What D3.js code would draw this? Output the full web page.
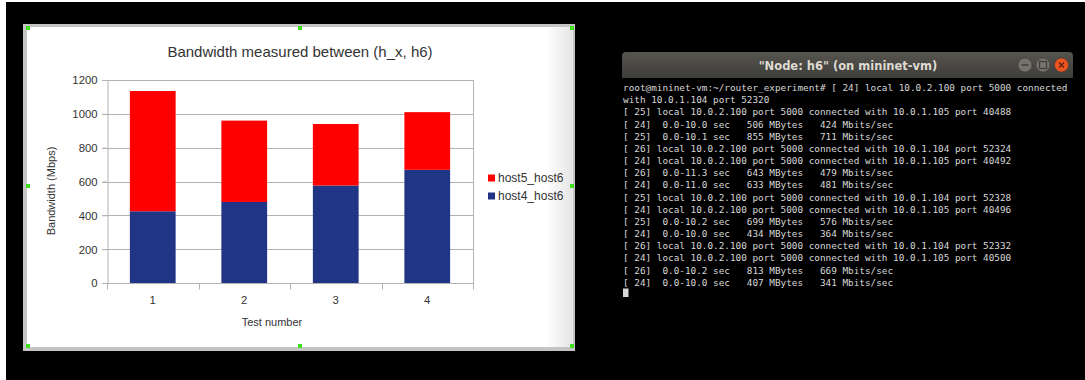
<!DOCTYPE html>
<html>
<head>
<meta charset="utf-8">
<script src="https://cdn.jsdelivr.net/npm/d3@7"></script>
<style>
  html, body { margin: 0; padding: 0; background: #000; }
  svg { display: block; }
</style>
</head>
<body>
<svg id="scene" width="1085" height="380"></svg>
<script>
// ---- chart data ----
const categories = ["1", "2", "3", "4"];
const host4_host6 = [424, 479, 576, 669];
const host5_host6 = [711, 481, 364, 341];
const seriesNames = ["host4_host6", "host5_host6"];
const seriesColors = ["#203586", "#ff0000"];
const yTicks = [0, 200, 400, 600, 800, 1000, 1200];
const chartTitle = "Bandwidth measured between (h_x, h6)";
const xTitle = "Test number";
const yTitle = "Bandwidth (Mbps)";

// ---- terminal session ----
const termTitle = "\"Node: h6\" (on mininet-vm)";
const termLines = [
  "root@mininet-vm:~/router_experiment# [ 24] local 10.0.2.100 port 5000 connected",
  "with 10.0.1.104 port 52320",
  "[ 25] local 10.0.2.100 port 5000 connected with 10.0.1.105 port 40488",
  "[ 24]  0.0-10.0 sec   506 MBytes   424 Mbits/sec",
  "[ 25]  0.0-10.1 sec   855 MBytes   711 Mbits/sec",
  "[ 26] local 10.0.2.100 port 5000 connected with 10.0.1.104 port 52324",
  "[ 24] local 10.0.2.100 port 5000 connected with 10.0.1.105 port 40492",
  "[ 26]  0.0-11.3 sec   643 MBytes   479 Mbits/sec",
  "[ 24]  0.0-11.0 sec   633 MBytes   481 Mbits/sec",
  "[ 25] local 10.0.2.100 port 5000 connected with 10.0.1.104 port 52328",
  "[ 24] local 10.0.2.100 port 5000 connected with 10.0.1.105 port 40496",
  "[ 25]  0.0-10.2 sec   699 MBytes   576 Mbits/sec",
  "[ 24]  0.0-10.0 sec   434 MBytes   364 Mbits/sec",
  "[ 26] local 10.0.2.100 port 5000 connected with 10.0.1.104 port 52332",
  "[ 24] local 10.0.2.100 port 5000 connected with 10.0.1.105 port 40500",
  "[ 26]  0.0-10.2 sec   813 MBytes   669 Mbits/sec",
  "[ 24]  0.0-10.0 sec   407 MBytes   341 Mbits/sec"
];

const svg = d3.select("#scene");
const defs = svg.append("defs");

// screen edge
svg.append("rect").attr("x", 0).attr("y", 0).attr("width", 1085).attr("height", 380).attr("fill", "#000");
svg.append("rect").attr("x", 0).attr("y", 0).attr("width", 6).attr("height", 380).attr("fill", "#fff");
svg.append("rect").attr("x", 0).attr("y", 0).attr("width", 1085).attr("height", 2).attr("fill", "#fff");

// ---- chart panel ----
const shade = defs.append("linearGradient").attr("id", "panelShade").attr("x1", 0).attr("x2", 1).attr("y1", 0).attr("y2", 0);
shade.append("stop").attr("offset", "0.95").attr("stop-color", "#ffffff");
shade.append("stop").attr("offset", "1").attr("stop-color", "#e4e4e4");

svg.append("rect").attr("x", 23).attr("y", 24).attr("width", 552).attr("height", 327).attr("fill", "#c4c4c4");
svg.append("rect").attr("x", 27).attr("y", 27).attr("width", 546).attr("height", 320).attr("fill", "url(#panelShade)");

const x = d3.scaleBand().domain(categories).range([107, 473]).paddingInner(0.5).paddingOuter(0.25);
const y = d3.scaleLinear().domain([0, 1200]).range([283, 80]);
const gridColor = "#b3b3b3";
const textColor = "#333";
const font = "'Liberation Sans', Arial, sans-serif";

// horizontal grid
svg.append("g").selectAll("line").data(yTicks).join("line")
  .attr("x1", 102).attr("x2", 473)
  .attr("y1", d => Math.round(y(d)) + 0.5).attr("y2", d => Math.round(y(d)) + 0.5)
  .attr("stroke", gridColor).attr("stroke-width", 1);

// plot frame right edge
svg.append("line").attr("x1", 473.5).attr("x2", 473.5).attr("y1", y(1200)).attr("y2", y(0) + 6)
  .attr("stroke", gridColor);

// y axis
const yAxis = svg.append("g").attr("transform", "translate(107.5,0)")
  .call(d3.axisLeft(y).tickValues(yTicks).tickFormat(d3.format("d")).tickSize(5).tickPadding(5));
yAxis.select(".domain").attr("stroke", gridColor);
yAxis.selectAll(".tick line").attr("stroke", gridColor);
yAxis.selectAll(".tick text").attr("fill", textColor).attr("font-family", font).attr("font-size", "11.3px")
  .attr("dy", "0.34em");

// stacked bars
const rows = categories.map((c, i) => ({ cat: c, host4_host6: host4_host6[i], host5_host6: host5_host6[i] }));
const stacked = d3.stack().keys(seriesNames)(rows);
svg.append("g").selectAll("g").data(stacked).join("g")
  .attr("fill", (d, i) => seriesColors[i])
  .selectAll("rect").data(d => d).join("rect")
  .attr("x", d => x(d.data.cat))
  .attr("width", x.bandwidth())
  .attr("y", d => y(d[1]))
  .attr("height", d => y(d[0]) - y(d[1]));

// x axis with boundary ticks
const xAxisG = svg.append("g").attr("transform", `translate(0,${Math.round(y(0)) + 0.5})`);
xAxisG.append("line").attr("x1", 102).attr("x2", 473).attr("stroke", gridColor);
const bounds = categories.map(c => x(c) - x.step() * x.paddingInner() / 2).concat([473]);
bounds[0] = 107;
xAxisG.selectAll("line.tk").data(bounds).join("line").attr("class", "tk")
  .attr("x1", d => Math.round(d) + 0.5).attr("x2", d => Math.round(d) + 0.5)
  .attr("y1", 0).attr("y2", 6).attr("stroke", gridColor);
xAxisG.selectAll("text").data(categories).join("text")
  .attr("x", d => x(d) + x.bandwidth() / 2).attr("y", 20)
  .attr("text-anchor", "middle").attr("fill", textColor)
  .attr("font-family", font).attr("font-size", "11.3px").text(d => d);

// titles
svg.append("text").attr("x", 300).attr("y", 57).attr("text-anchor", "middle")
  .attr("fill", textColor).attr("font-family", font).attr("font-size", "15px").text(chartTitle);
svg.append("text").attr("x", 272).attr("y", 326).attr("text-anchor", "middle")
  .attr("fill", textColor).attr("font-family", font).attr("font-size", "11px").text(xTitle);
svg.append("text").attr("transform", "translate(55,191) rotate(-90)").attr("text-anchor", "middle")
  .attr("fill", textColor).attr("font-family", font).attr("font-size", "11px").text(yTitle);

// legend (top series listed first)
const legendOrder = [1, 0];
const legend = svg.append("g").selectAll("g").data(legendOrder).join("g")
  .attr("transform", (d, i) => `translate(488,${178 + i * 18})`);
legend.append("rect").attr("x", 0).attr("y", -3.5).attr("width", 7).attr("height", 7)
  .attr("fill", d => seriesColors[d]);
legend.append("text").attr("x", 10).attr("y", 4.3).attr("fill", textColor)
  .attr("font-family", font).attr("font-size", "12px").text(d => seriesNames[d]);

// selection handles
const handles = [[28, 28], [300, 28], [572, 28], [28, 186], [572, 186], [28, 346], [300, 346], [572, 346]];
svg.append("g").selectAll("rect").data(handles).join("rect")
  .attr("x", d => d[0] - 2).attr("y", d => d[1] - 2).attr("width", 4).attr("height", 4)
  .attr("fill", "#3ee01f");

// ---- terminal window ----
const tb = defs.append("linearGradient").attr("id", "titleBar").attr("x1", 0).attr("x2", 0).attr("y1", 0).attr("y2", 1);
tb.append("stop").attr("offset", "0").attr("stop-color", "#55544f");
tb.append("stop").attr("offset", "1").attr("stop-color", "#3e3d39");
svg.append("path")
  .attr("d", "M622,78 L622,56 Q622,52 626,52 L1069,52 Q1073,52 1073,56 L1073,78 Z")
  .attr("fill", "url(#titleBar)");
svg.append("text").attr("x", 848).attr("y", 70).attr("text-anchor", "middle")
  .attr("fill", "#dfdbd2").attr("font-family", "'DejaVu Sans', sans-serif")
  .attr("font-weight", "bold").attr("font-size", "11.5px").text(termTitle);

// window buttons
const btns = [{ cx: 1025, c: "#74736e" }, { cx: 1043, c: "#74736e" }, { cx: 1061.5, c: "#f0541e" }];
svg.append("g").selectAll("circle").data(btns).join("circle")
  .attr("cx", d => d.cx).attr("cy", 65).attr("r", 7).attr("fill", d => d.c)
  .attr("stroke", "#3a3935").attr("stroke-width", 0.6);
svg.append("line").attr("x1", 1021.5).attr("x2", 1028.5).attr("y1", 65).attr("y2", 65).attr("stroke", "#3e3d39").attr("stroke-width", 1.5);
svg.append("rect").attr("x", 1039.5).attr("y", 61.5).attr("width", 7).attr("height", 7).attr("fill", "none").attr("stroke", "#3e3d39").attr("stroke-width", 1.2);
svg.append("path").attr("d", "M1059,62.5 L1064,67.5 M1064,62.5 L1059,67.5").attr("stroke", "#5a2410").attr("stroke-width", 1.3);

// terminal text
const term = svg.append("g").attr("font-family", "'DejaVu Sans Mono', monospace").attr("font-size", "9.35px")
  .attr("fill", "#d8d8d8");
term.selectAll("text").data(termLines).join("text")
  .attr("x", 623).attr("y", (d, i) => 91 + i * 12.17)
  .attr("xml:space", "preserve").style("white-space", "pre").text(d => d);
// cursor
svg.append("rect").attr("x", 623).attr("y", 288.5).attr("width", 5.5).attr("height", 8.5).attr("fill", "#d8d8d8");
</script>
</body>
</html>
